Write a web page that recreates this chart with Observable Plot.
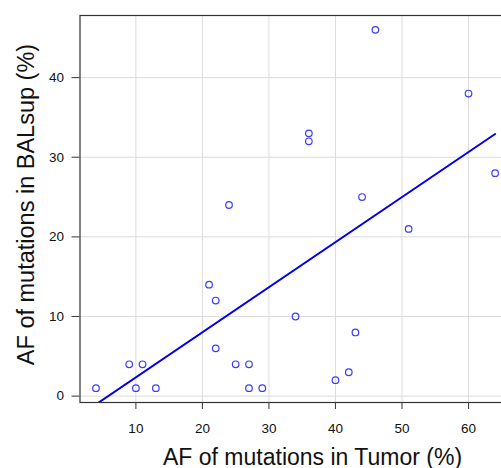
<!DOCTYPE html>
<html>
<head>
<meta charset="utf-8">
<script src="https://cdn.jsdelivr.net/npm/d3@7"></script>
<script src="https://cdn.jsdelivr.net/npm/@observablehq/plot@0.6"></script>
<style>
  html, body { margin: 0; padding: 0; background: #fff; overflow: hidden; }
  #chart svg { display: block; }
</style>
</head>
<body>
<div id="chart"></div>
<script>
// AF (%) of mutations in tumor vs. in BALsup
const tumorAF  = [4, 9, 10, 11, 13, 21, 22, 22, 24, 25, 27, 27, 29, 34, 36, 36, 40, 42, 43, 44, 46, 51, 60, 64];
const balsupAF = [1, 4, 1, 4, 1, 14, 12, 6, 24, 4, 4, 1, 1, 10, 33, 32, 2, 3, 8, 25, 46, 21, 38, 28];

// fitted line
const fitIntercept = -3.3;
const fitSlope = 0.566;

const xTicks = [10, 20, 30, 40, 50, 60];
const yTicks = [0, 10, 20, 30, 40];

const xTitle = "AF of mutations in Tumor (%)";
const yTitle = "AF of mutations in BALsup (%)";

const points = tumorAF.map((x, i) => ({x, y: balsupAF[i]}));
const xExtent = d3.extent(tumorAF);
const fitLine = xExtent.map(x => ({x, y: fitIntercept + fitSlope * x}));

const xDomain = [1.6, 66.4];
const yDomain = [-0.8, 47.8];

const font = "'Liberation Sans', Arial, Helvetica, sans-serif";

const chart = Plot.plot({
  width: 501,
  height: 468,
  marginLeft: 79.5,
  marginTop: 15,
  marginBottom: 66,
  marginRight: -9.6,
  style: {fontFamily: font, background: "#fff", color: "#111"},
  x: {domain: xDomain, axis: null},
  y: {domain: yDomain, axis: null},
  marks: [
    Plot.gridX(xTicks, {stroke: "#dcdcdc", strokeOpacity: 1, strokeWidth: 1}),
    Plot.gridY(yTicks, {stroke: "#dcdcdc", strokeOpacity: 1, strokeWidth: 1}),
    Plot.frame({stroke: "#333", strokeWidth: 1.2}),
    // ticks
    Plot.ruleX(xTicks, {x: d => d, y1: yDomain[0], y2: yDomain[0], insetBottom: -7, stroke: "#444", strokeWidth: 1.1}),
    Plot.ruleY(yTicks, {y: d => d, x1: xDomain[0], x2: xDomain[0], insetLeft: -8, stroke: "#444", strokeWidth: 1.1}),
    // tick labels
    Plot.text(xTicks, {x: d => d, text: d => String(d), frameAnchor: "bottom", lineAnchor: "top", dy: 21, fontSize: 13.5, fill: "#111"}),
    Plot.text(yTicks, {y: d => d, text: d => String(d), frameAnchor: "left", textAnchor: "end", lineAnchor: "middle", dx: -16, fontSize: 13.5, fill: "#111"}),
    Plot.line(fitLine, {x: "x", y: "y", stroke: "#0000ee", strokeWidth: 2, clip: true}),
    Plot.dot(points, {x: "x", y: "y", r: 3.3, stroke: "#3c3cff", strokeWidth: 1.2, fill: "none"}),
    Plot.text([xTitle], {frameAnchor: "bottom", textAnchor: "middle", lineAnchor: "bottom", dy: 62, dx: 17, fontSize: 23, fill: "#111", text: d => d}),
    Plot.text([yTitle], {frameAnchor: "left", textAnchor: "middle", lineAnchor: "middle", rotate: -90, dx: -54, dy: -4.5, fontSize: 23.5, fill: "#111", text: d => d})
  ]
});
document.getElementById("chart").appendChild(chart);
</script>
</body>
</html>
